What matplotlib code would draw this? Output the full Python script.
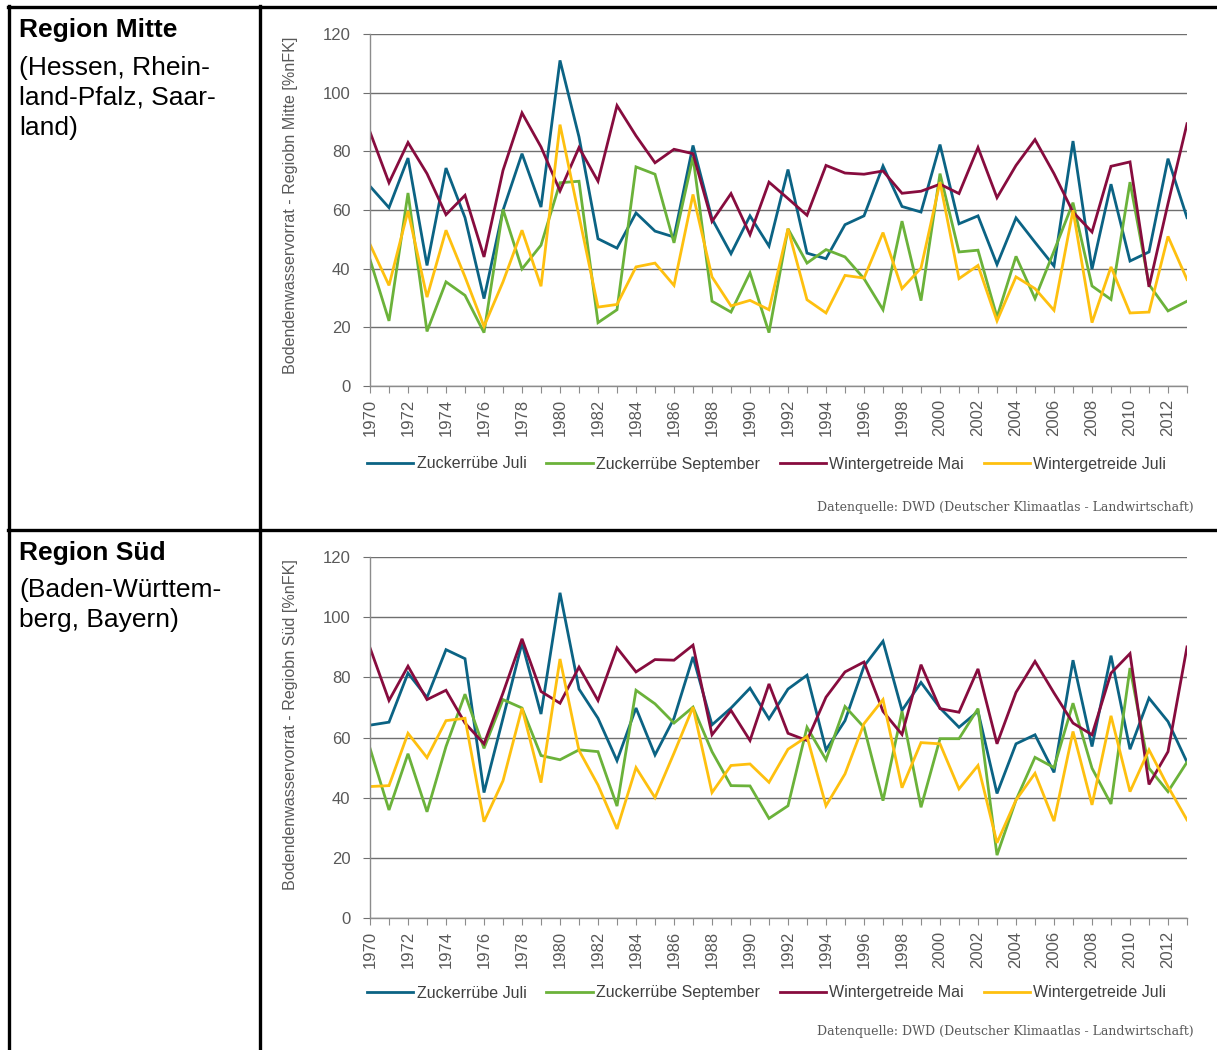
# -*- coding: utf-8 -*-

import matplotlib
matplotlib.use('Agg')
import matplotlib.pyplot as plt
from matplotlib.lines import Line2D

plt.rcParams['font.family'] = ['Liberation Sans', 'DejaVu Sans']

# DATA (Bodenwasservorrat in %nFK, 1970 - 2013)
years = list(range(1970, 2014))

seriesNames = ["Zuckerrübe Juli", "Zuckerrübe September", "Wintergetreide Mai", "Wintergetreide Juli"]
seriesColors = ["#0b6384", "#6bb23a", "#870c3e", "#fec00f"]

# Region Mitte
zj_mitte = [68.1, 60.8, 77.7, 41.1, 74.3, 57.4, 29.8, 59.9, 79.2, 61.0,
            111.0, 84.9, 50.2, 47.0, 59.0, 52.8, 50.8, 82.0, 57.0, 45.1,
            58.0, 47.7, 73.8, 45.3, 43.4, 55.0, 58.0, 75.0, 61.2, 59.3,
            82.3, 55.3, 58.0, 41.4, 57.3, 49.0, 40.9, 83.5, 39.8, 68.8,
            42.6, 45.7, 77.5, 57.4]
zs_mitte = [43.1, 22.2, 65.8, 18.6, 35.5, 30.9, 18.2, 60.2, 39.9, 48.0,
            69.3, 69.8, 21.6, 26.0, 74.7, 72.2, 48.8, 78.1, 28.9, 25.2,
            38.6, 18.2, 53.6, 41.9, 46.5, 44.0, 36.6, 26.0, 56.2, 29.1,
            72.4, 45.7, 46.3, 23.5, 44.2, 29.8, 46.0, 62.5, 34.1, 29.5,
            69.5, 34.6, 25.6, 28.9]
wm_mitte = [86.6, 69.3, 83.0, 72.4, 58.4, 65.0, 44.0, 73.5, 93.1, 81.5,
            66.5, 81.3, 69.8, 95.6, 85.3, 76.1, 80.7, 79.2, 56.1, 65.6,
            51.6, 69.5, 63.9, 58.2, 75.2, 72.6, 72.2, 73.3, 65.7, 66.4,
            68.8, 65.6, 81.3, 64.2, 75.2, 84.0, 72.4, 59.3, 52.5, 74.9,
            76.4, 33.8, 62.2, 89.4]
wj_mitte = [48.3, 34.3, 59.7, 30.3, 53.1, 37.2, 20.3, 35.5, 53.1, 34.0,
            89.1, 58.0, 26.9, 27.8, 40.6, 41.9, 34.3, 65.3, 37.2, 27.3,
            29.2, 26.0, 53.6, 29.4, 24.9, 37.7, 36.8, 52.3, 33.2, 40.2,
            69.5, 36.6, 41.1, 22.2, 37.2, 33.2, 25.8, 59.9, 21.6, 40.6,
            24.9, 25.2, 51.0, 36.3]

# Region Sued
zj_sued = [64.1, 65.1, 81.4, 73.3, 89.2, 86.2, 41.7, 66.4, 91.4, 67.8,
           108.1, 76.1, 66.4, 52.3, 69.8, 54.2, 66.4, 86.8, 64.2, 69.8,
           76.4, 66.2, 76.1, 80.7, 55.9, 65.6, 83.7, 92.0, 69.0, 78.3,
           69.8, 63.4, 68.7, 41.4, 57.9, 60.9, 48.4, 85.7, 57.0, 87.2,
           56.1, 73.1, 65.3, 51.8]
zs_sued = [56.4, 35.9, 54.6, 35.3, 57.0, 74.4, 56.4, 72.6, 69.8, 54.0,
           52.6, 55.9, 55.3, 37.2, 75.7, 71.2, 64.8, 70.1, 55.3, 44.0,
           43.9, 33.1, 37.3, 63.4, 52.6, 70.3, 63.4, 39.0, 68.7, 36.8,
           59.6, 59.6, 69.6, 20.9, 39.2, 53.4, 50.0, 71.4, 49.8, 37.9,
           83.1, 49.8, 42.0, 51.8]
wm_sued = [89.8, 72.3, 83.7, 72.6, 75.7, 64.8, 57.9, 74.8, 92.8, 75.3,
           71.4, 83.4, 72.3, 89.8, 81.8, 85.9, 85.7, 90.7, 60.9, 69.0,
           59.0, 77.8, 61.4, 59.0, 73.4, 81.8, 85.1, 68.7, 61.0, 84.2,
           69.6, 68.4, 82.8, 57.9, 75.0, 85.3, 74.8, 64.8, 60.9, 81.4,
           87.9, 44.4, 55.3, 90.1]
wj_sued = [43.7, 44.0, 61.4, 53.3, 65.6, 66.4, 32.0, 45.6, 69.8, 45.0,
           86.1, 55.7, 44.2, 29.6, 50.0, 40.0, 54.8, 70.1, 41.7, 50.7,
           51.2, 45.1, 56.1, 60.3, 37.3, 47.9, 64.6, 72.6, 43.3, 58.3,
           57.9, 42.9, 50.7, 25.0, 39.2, 48.1, 32.2, 62.0, 37.6, 67.2,
           42.0, 55.9, 43.7, 32.6]

sourceText = "Datenquelle: DWD (Deutscher Klimaatlas - Landwirtschaft)"

W = 1217.0
H = 1050.0


def fx(x):
    return x / W


def fy(y):
    return 1.0 - y / H


def drawPanel(_fig, _top, _bottom, _series, _ylabel, _labelPos, _legendY, _sourceY):
    ax = _fig.add_axes([fx(370), fy(_bottom), fx(1187) - fx(370), fy(_top) - fy(_bottom)])
    for values, name, color in zip(_series, seriesNames, seriesColors):
        ax.plot(years, values, color=color, lw=2.0, label=name, solid_joinstyle='miter')

    ax.set_xlim(years[0], years[-1])
    ax.set_ylim(0, 120)
    ax.set_yticks(range(0, 121, 20))
    ax.set_xticks(years)
    ax.set_xticklabels([str(y) if y % 2 == 0 else "" for y in years])
    ax.grid(axis='y', color='#6f6f6f', lw=1.0)
    ax.set_axisbelow(True)

    for s in ['top', 'right']:
        ax.spines[s].set_visible(False)
    for s in ['left', 'bottom']:
        ax.spines[s].set_color('#8c8c8c')
        ax.spines[s].set_linewidth(1.0)

    ax.tick_params(axis='x', direction='out', length=5, color='#8c8c8c',
                   labelcolor='#595959', labelrotation=90, labelsize=12, pad=4)
    ax.tick_params(axis='y', direction='out', length=5, color='#6f6f6f',
                   labelcolor='#595959', labelsize=12, pad=9)

    ax.set_ylabel(_ylabel, fontsize=11.6, color='#595959')
    ax.yaxis.set_label_coords(-0.088, _labelPos)

    handles, labels = ax.get_legend_handles_labels()
    ax.legend(handles, labels, loc='center left', bbox_to_anchor=(fx(367), fy(_legendY)),
              bbox_transform=_fig.transFigure, ncol=4, frameon=False, fontsize=11.5,
              handlelength=2.9, handletextpad=0.2, columnspacing=1.25,
              borderpad=0, borderaxespad=0, labelcolor='#404040')

    _fig.text(fx(1194), fy(_sourceY), sourceText, ha='right', va='center',
              family='DejaVu Serif', fontsize=9, color='#595959')
    return ax


fig = plt.figure(figsize=(W / 100, H / 100), dpi=100)

# table frame
frame = [
    ([8, 1217], [7, 7]),
    ([8, 1217], [530, 530]),
    ([9, 9], [6, 1050]),
    ([260, 260], [6, 1050]),
]
for xs, ys in frame:
    fig.add_artist(Line2D([fx(x) for x in xs], [fy(y) for y in ys],
                          transform=fig.transFigure, color='black', lw=2.4))

# left column texts
fig.text(fx(19), fy(18), "Region Mitte", fontsize=19, fontweight='bold', va='top')
fig.text(fx(19), fy(56), "(Hessen, Rhein-\nland-Pfalz, Saar-\nland)", fontsize=19,
         va='top', linespacing=1.31)
fig.text(fx(19), fy(541), "Region Süd", fontsize=19, fontweight='bold', va='top')
fig.text(fx(19), fy(578), "(Baden-Württem-\nberg, Bayern)", fontsize=19,
         va='top', linespacing=1.31)

# charts
drawPanel(fig, 34, 386, [zj_mitte, zs_mitte, wm_mitte, wj_mitte],
          "Bodendenwasservorrat - Regiobn Mitte [%nFK]", 0.514, 464, 508)
drawPanel(fig, 557, 918, [zj_sued, zs_sued, wm_sued, wj_sued],
          "Bodendenwasservorrat - Regiobn Süd [%nFK]", 0.537, 993, 1032)

fig.savefig("out.png", dpi=100)
